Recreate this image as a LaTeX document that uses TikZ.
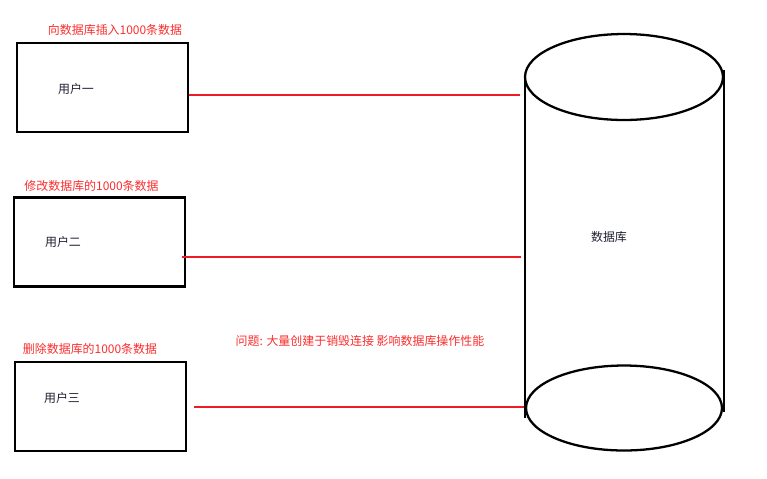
\documentclass[tikz,border=0pt]{standalone}
\usepackage{fontspec}
\setmainfont{Noto Sans CJK SC}
\definecolor{lineRed}{RGB}{237,28,36}
\definecolor{noteRed}{RGB}{250,45,45}
\definecolor{userText}{RGB}{30,30,50}

\begin{document}
\begin{tikzpicture}[x=0.02cm, y=-0.02cm,
    userbox/.style={draw, line width=1.5pt, minimum width=3.42cm, minimum height=1.78cm},
    rednote/.style={text=noteRed, font=\fontsize{6.8}{8}\selectfont},
    usertext/.style={text=userText, font=\fontsize{6.8}{8}\selectfont},
    link/.style={draw=lineRed, line width=1.2pt}]
        \useasboundingbox (0,0) rectangle (767,478);
        % users
        \node[userbox] (u1) at (102.5,87.5){};
        \node[userbox] (u2) at (99.5,242){};
        \node[userbox] (u3) at (100.5,406.5){};
        \node[usertext] (n1) at (76,89){用户一};
        \node[usertext] (n2) at (63,242){用户二};
        \node[usertext] (n3) at (62,398){用户三};
        \node[rednote] (t1) at (115,30){向数据库插入1000条数据};
        \node[rednote] (t2) at (91.5,186){修改数据库的1000条数据};
        \node[rednote] (t3) at (90,349){删除数据库的1000条数据};
        \node[rednote] (q) at (360,341){问题: 大量创建于销毁连接 影响数据库操作性能};
        % database
        \draw[line width=1.3pt] (624,77) ellipse [x radius=1.98cm, y radius=0.86cm];
        \draw[line width=1.3pt] (525,75)--(525,418);
        \draw[line width=1.3pt] (724,70)--(724,412);
        \draw[line width=1.3pt] (624,408) ellipse [x radius=1.96cm, y radius=0.85cm];
        \node[usertext] (db) at (609,237){数据库};
        \coordinate (db1) at (520,95);
        \coordinate (db2) at (521,257);
        \coordinate (db3) at (524,407);
        \coordinate (s2) at ([xshift=-0.08cm]u2.east);
        \coordinate (s3) at ([xshift=0.14cm]u3.east);
        \draw[link] (u1.east |- db1)--(db1);
        \draw[link] (s2 |- db2)--(db2);
        \draw[link] (s3 |- db3)--(db3);
    \end{tikzpicture}
\end{document}
